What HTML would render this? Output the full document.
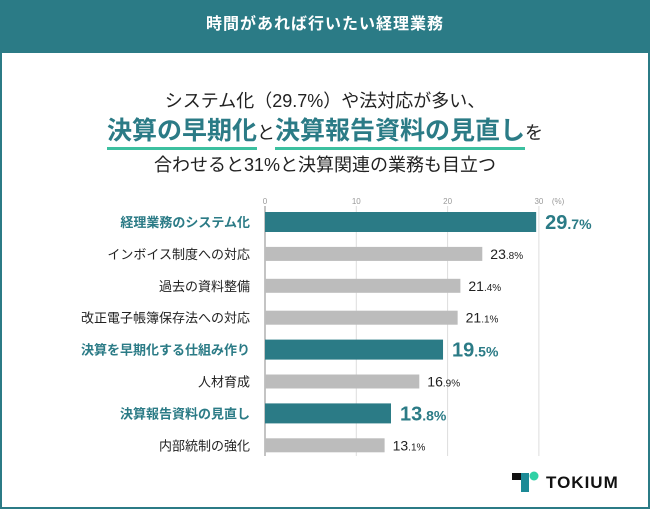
<!DOCTYPE html>
<html><head><meta charset="utf-8"><style>
body{margin:0;width:650px;height:509px;overflow:hidden;background:#fff;font-family:"Liberation Sans","Noto Sans CJK JP",sans-serif}
.card{position:absolute;left:0;top:0;width:646px;height:505px;border:2px solid #2b7b86}
.hdr{position:absolute;left:0;top:0;width:650px;height:53px;background:#2b7b86;color:#fff;font-weight:bold;font-size:16px;text-align:center;line-height:50px;letter-spacing:1px}
.t{position:absolute;left:0;width:650px;text-align:center;color:#222}
.hl{color:#2b7b86;font-weight:bold;font-size:25px;border-bottom:3px solid #3cc0a0;padding-bottom:2px}
</style></head><body>
<div class="card"></div>
<div class="hdr">時間があれば行いたい経理業務</div>
<div class="t" style="top:87px;font-size:18px">システム化（29.7%）や法対応が多い、</div>
<div class="t" style="top:111px;font-size:18px"><span class="hl">決算の早期化</span>と<span class="hl">決算報告資料の見直し</span>を</div>
<div class="t" style="top:151px;font-size:18px">合わせると31%と決算関連の業務も目立つ</div>
<svg id="ch" width="650" height="509" style="position:absolute;left:0;top:0"></svg>
<div style="position:absolute;left:512px;top:468px">
<svg width="120" height="26"><rect x="0" y="5" width="16" height="7" fill="#111"/><rect x="9" y="5" width="8" height="19" fill="#1c8a96"/><circle cx="22" cy="8" r="4.5" fill="#2fd1a5"/><text x="34" y="20" font-size="17" font-weight="bold" fill="#111" font-family="Liberation Sans, sans-serif" letter-spacing="1">TOKIUM</text></svg></div>
<script>
const categories=["経理業務のシステム化","インボイス制度への対応","過去の資料整備","改正電子帳簿保存法への対応","決算を早期化する仕組み作り","人材育成","決算報告資料の見直し","内部統制の強化"];
const values=[29.7,23.8,21.4,21.1,19.5,16.9,13.8,13.1];
const highlight=[true,false,false,false,true,false,true,false];
const ticks=[0,10,20,30];
const svg=document.getElementById('ch');const NS='http://www.w3.org/2000/svg';
const x=v=>265+v*9.13, y=i=>222+i*31.9;
function el(t,a,txt){const e=document.createElementNS(NS,t);for(const k in a)e.setAttribute(k,a[k]);if(txt!=null)e.textContent=txt;svg.appendChild(e);return e;}
ticks.forEach(t=>{const g=el('line',{x1:x(t),x2:x(t),y1:206,y2:456,stroke:t?'#ddd':'#888','stroke-width':1});


const l=el('text',{x:x(t),y:204,'font-size':8,fill:'#999','text-anchor':'middle'},t);

});
el('text',{x:x(30)+13,y:204,'font-size':8,fill:'#999'},'(%)');
values.forEach((v,i)=>{const h=highlight[i],bh=h?20:14;
const b=el('rect',{x:x(0),y:y(i)-bh/2,width:x(v)-x(0),height:bh,fill:h?'#2b7b86':'#bcbcbc'});


const c=el('text',{x:250,y:y(i)+5,'font-size':13,'text-anchor':'end',fill:h?'#2b7b86':'#222','font-weight':h?'bold':'normal'},categories[i]);


const [a,d]=v.toFixed(1).split('.');
const t=el('text',{x:x(v)+(h?9:8),y:y(i)+(h?7:5),fill:h?'#2b7b86':'#222','font-weight':h?'bold':'normal'});


const s1=document.createElementNS(NS,'tspan');s1.setAttribute('font-size',h?20:14);s1.textContent=a;
const s2=document.createElementNS(NS,'tspan');s2.setAttribute('font-size',h?14:10);s2.textContent='.'+d+'%';
t.appendChild(s1);t.appendChild(s2);});
</script>
</body></html>
